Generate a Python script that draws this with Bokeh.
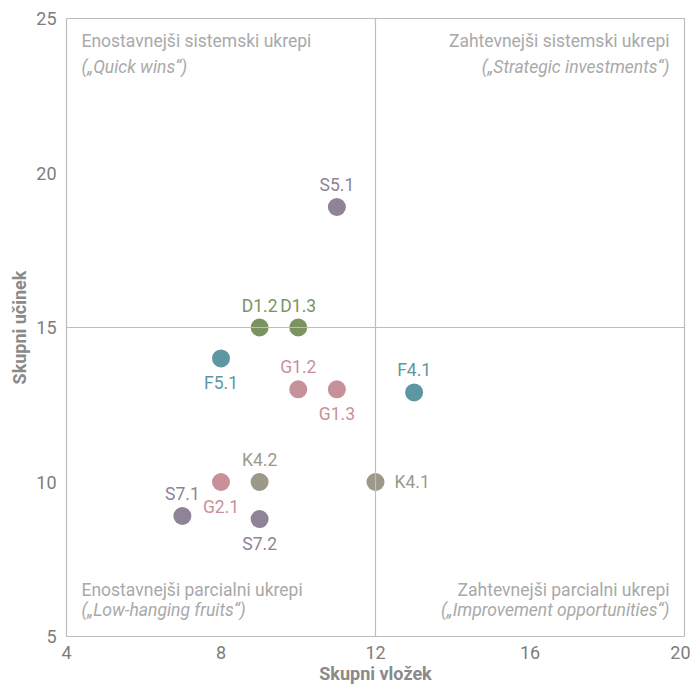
from bokeh.plotting import figure
from bokeh.models import ColumnDataSource, Span, Label, FixedTicker
from bokeh.core.properties import value
from bokeh.embed import file_html
from bokeh.resources import INLINE

# ---- data ----
names = ["S5.1", "D1.2", "D1.3", "F5.1", "G1.2", "G1.3", "F4.1",
         "K4.2", "G2.1", "K4.1", "S7.1", "S7.2"]
vlozek = [11, 9, 10, 8, 10, 11, 13, 9, 8, 12, 7, 9]
ucinek = [18.9, 15, 15, 14, 13, 13, 12.9, 10, 10, 10, 8.9, 8.8]
label_side = ["above", "above", "above", "below", "above", "below", "above",
              "above", "below", "right", "above", "below"]
x_ticks = [4, 8, 12, 16, 20]
y_ticks = [5, 10, 15, 20, 25]
quadrants = {
    "tl": ("Enostavnejši sistemski ukrepi", "(„Quick wins“)"),
    "tr": ("Zahtevnejši sistemski ukrepi", "(„Strategic investments“)"),
    "bl": ("Enostavnejši parcialni ukrepi", "(„Low-hanging fruits“)"),
    "br": ("Zahtevnejši parcialni ukrepi", "(„Improvement opportunities“)"),
}
x_title = "Skupni vložek"
y_title = "Skupni učinek"

# ---- style ----
palette = {"S": "#8e8397", "D": "#7b9363", "F": "#5c97a2", "G": "#c7919a", "K": "#9c998a"}
colors = [palette[n[0]] for n in names]
FONT = "Roboto"

p = figure(width=690, height=690, x_range=(4, 20), y_range=(5, 25),
           output_backend="svg", toolbar_location=None,
           min_border_left=66, min_border_right=6, min_border_top=18, min_border_bottom=54)
p.outline_line_color = "#bdbdbd"
p.outline_line_width = 1.2
p.grid.visible = False
p.background_fill_color = "white"

for ax in (p.xaxis[0], p.yaxis[0]):
    ax.axis_line_color = None
    ax.major_tick_line_color = None
    ax.minor_tick_line_color = None
    ax.major_tick_out = 0
    ax.major_tick_in = 0
    ax.major_label_text_font = FONT
    ax.major_label_text_font_size = "18px"
    ax.major_label_text_color = "#7d7d7d"
    ax.major_label_standoff = 10
    ax.axis_label_text_font = FONT
    ax.axis_label_text_font_style = "bold"
    ax.axis_label_text_font_size = "18px"
    ax.axis_label_text_color = "#8a8a8a"
p.xaxis.ticker = FixedTicker(ticks=x_ticks)
p.yaxis.ticker = FixedTicker(ticks=y_ticks)
p.xaxis.axis_label = x_title
p.yaxis.axis_label = y_title
p.xaxis.major_label_standoff = 9
p.xaxis.axis_label_standoff = 1
p.yaxis.axis_label_standoff = 3

p.add_layout(Span(location=12, dimension="height", line_color="#bdbdbd", line_width=1.2))
p.add_layout(Span(location=15, dimension="width", line_color="#bdbdbd", line_width=1.2))

# quadrant texts
qcol = "#a9a9a9"
qsize = "17.5px"
def qlabel(x, y, txt, align, yoff, xoff, italic):
    p.add_layout(Label(x=x, y=y, text=txt, x_offset=xoff, y_offset=yoff,
                       text_align=align, text_baseline="alphabetic",
                       text_font=FONT, text_font_size=qsize, text_color=qcol,
                       text_font_style="italic" if italic else "normal"))
qlabel(4, 25, quadrants["tl"][0], "left", -22, 15, False)
qlabel(4, 25, quadrants["tl"][1], "left", -48, 15, True)
qlabel(20, 25, quadrants["tr"][0], "right", -22, -15, False)
qlabel(20, 25, quadrants["tr"][1], "right", -48, -15, True)
qlabel(4, 5, quadrants["bl"][0], "left", 47, 15, False)
qlabel(4, 5, quadrants["bl"][1], "left", 27, 15, True)
qlabel(20, 5, quadrants["br"][0], "right", 47, -15, False)
qlabel(20, 5, quadrants["br"][1], "right", 27, -15, True)

src = ColumnDataSource(dict(x=vlozek, y=ucinek, name=names, color=colors, side=label_side))
p.scatter("x", "y", source=src, size=18, fill_color="color", line_color=None)

for side, (align, base, xo, yo) in {
    "above": ("center", "alphabetic", 0, 22),
    "below": ("center", "alphabetic", 0, -25),
    "right": ("left", "middle", 19, 0),
}.items():
    idx = [i for i, s in enumerate(label_side) if s == side]
    s = ColumnDataSource(dict(x=[vlozek[i] for i in idx], y=[ucinek[i] for i in idx],
                              name=[names[i] for i in idx], color=[colors[i] for i in idx]))
    p.text("x", "y", text="name", source=s, text_color="color",
           text_align=align, text_baseline=base, x_offset=xo, y_offset=-yo,
           text_font=value(FONT), text_font_size="17.5px")

open("out.html", "w").write(file_html(p, INLINE))
